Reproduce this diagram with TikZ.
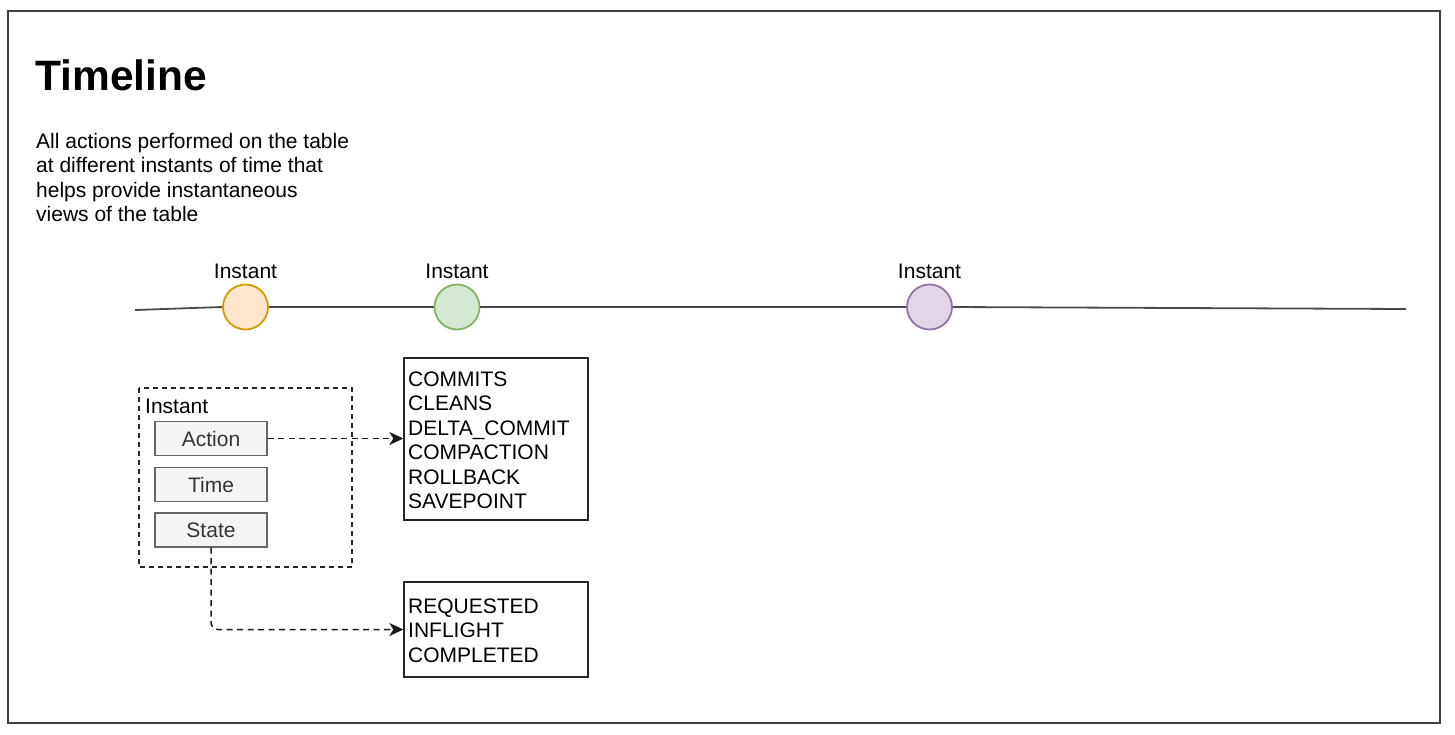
\documentclass[tikz,border=0pt]{standalone}
\usepackage{fontspec}
\setmainfont{Liberation Sans}
\usetikzlibrary{arrows.meta}
\definecolor{lineclr}{HTML}{4A4A4A}
\definecolor{orfill}{HTML}{FFE6CC}\definecolor{ordraw}{HTML}{D79B00}
\definecolor{grfill}{HTML}{D5E8D4}\definecolor{grdraw}{HTML}{82B366}
\definecolor{pufill}{HTML}{E1D5E7}\definecolor{pudraw}{HTML}{9673A6}
\definecolor{boxfill}{HTML}{F5F5F5}\definecolor{boxdraw}{HTML}{666666}
\tikzset{
  txt/.style={inner sep=0pt, font=\fontsize{21}{24.5}\selectfont},
  instantdot/.style={circle, minimum size=45pt, inner sep=0pt, line width=1.8pt},
  fieldbox/.style={draw=boxdraw, fill=boxfill, line width=1.3pt, minimum width=112pt, minimum height=34pt, inner sep=0pt, text=black!80, font=\fontsize{21}{24}\selectfont},
  listbox/.style={draw=black!85, line width=1.3pt},
  dashlink/.style={dash pattern=on 6pt off 4.5pt, line width=1.5pt, draw=black!90, -{Stealth[length=14pt,width=13pt,inset=4pt]}},
}
\begin{document}
\begin{tikzpicture}[x=1pt,y=-1pt]
\useasboundingbox (0,0) rectangle (1455,734);
\draw[draw=black!75, line width=1.4pt] (8,11) rectangle (1440,723);
% title and description
\node[anchor=base west, inner sep=0pt, font=\fontsize{42.5}{48}\selectfont\bfseries] (title) at (35,90) {Timeline};
\node[anchor=base west, txt] (desc) at (36,148) {\vtop{\hbox{All actions performed on the table}\hbox{at different instants of time that}\hbox{helps provide instantaneous}\hbox{views of the table}}};
% timeline
\coordinate (tstart) at (135,310);
\coordinate (tend) at (1406,309);
\node[instantdot, draw=ordraw, fill=orfill] (c1) at (245.5,307) {};
\node[instantdot, draw=grdraw, fill=grfill] (c2) at (457,307) {};
\node[instantdot, draw=pudraw, fill=pufill] (c3) at (929.5,307) {};
\draw[lineclr, line width=1.8pt] (tstart) -- (c1.west);
\draw[lineclr, line width=1.8pt] (c1.east) -- (c2.west);
\draw[lineclr, line width=1.8pt] (c2.east) -- (c3.west);
\draw[lineclr, line width=1.8pt] (c3.east) -- (tend);
\node[anchor=base, txt] (l1) at (245.5,278) {Instant};
\node[anchor=base, txt] (l2) at (457,278) {Instant};
\node[anchor=base, txt] (l3) at (929.5,278) {Instant};
% instant structure
\draw[draw=black!85, line width=1.4pt, dash pattern=on 5pt off 4pt] (139,388) rectangle (352,567);
\node[anchor=base west, txt] (ilabel) at (145,413) {Instant};
\node[fieldbox] (action) at (211,438.5) {Action};
\node[fieldbox] (time) at (211,484.5) {Time};
\node[fieldbox] (state) at (211,530) {State};
% lists
\node[listbox, minimum width=184pt, minimum height=162pt, inner sep=0pt] (acts) at (496,439) {};
\node[anchor=base west, txt] (actstext) at (408,386) {\vtop{\hbox{COMMITS}\hbox{CLEANS}\hbox{DELTA\_COMMIT}\hbox{COMPACTION}\hbox{ROLLBACK}\hbox{SAVEPOINT}}};
\node[listbox, minimum width=184pt, minimum height=95pt, inner sep=0pt] (states) at (496,629.5) {};
\node[anchor=base west, txt] (statestext) at (408,613) {\vtop{\hbox{REQUESTED}\hbox{INFLIGHT}\hbox{COMPLETED}}};
% links
\draw[dashlink] (action.east) -- (acts.west |- action.east);
\draw[dashlink, rounded corners=7pt] (state.south) |- (states.west);
\end{tikzpicture}
\end{document}
